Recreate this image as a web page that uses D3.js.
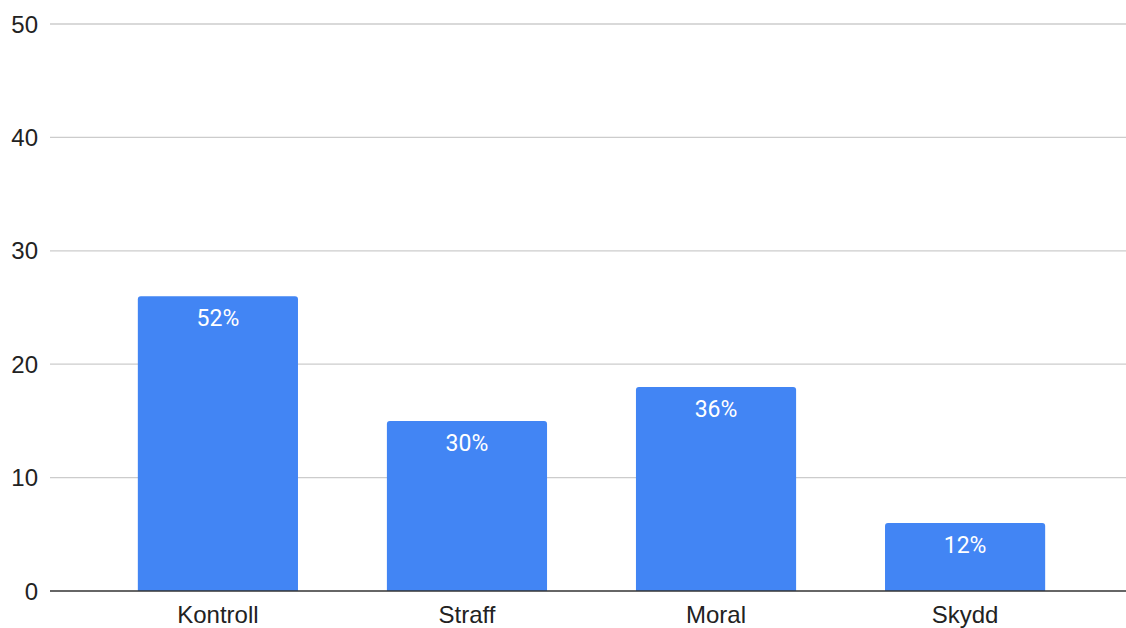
<!DOCTYPE html>
<html>
<head>
<meta charset="utf-8">
<script src="https://cdn.jsdelivr.net/npm/d3@7"></script>
<style>
  body { margin: 0; background: #fff; }
</style>
</head>
<body>
<svg id="chart"></svg>
<script>
const categories = ["Kontroll", "Straff", "Moral", "Skydd"];
const values = [26, 15, 18, 6];
const percentLabels = ["52%", "30%", "36%", "12%"];
const yTicks = [0, 10, 20, 30, 40, 50];

const WIDTH = 1126;
const HEIGHT = 628;
const AXIS_FONT = "'Liberation Sans', Arial, sans-serif";
const LABEL_FONT = "Roboto, 'Liberation Sans', sans-serif";

const svg = d3.select("#chart").attr("width", WIDTH).attr("height", HEIGHT);

// scales
const x = d3.scaleBand()
  .domain(categories)
  .range([93.5, 1089.5])
  .paddingInner(0.357)
  .paddingOuter(0.178);

const y = d3.scaleLinear().domain([0, 50]).range([591, 24]);

// gridlines
svg.append("g")
  .selectAll("line")
  .data(yTicks.filter(d => d > 0))
  .enter()
  .append("line")
  .attr("x1", 50)
  .attr("x2", WIDTH)
  .attr("y1", d => y(d))
  .attr("y2", d => y(d))
  .attr("stroke", "#cccccc")
  .attr("stroke-width", 1.3);

// y tick labels
svg.append("g")
  .selectAll("text")
  .data(yTicks)
  .enter()
  .append("text")
  .attr("x", 38)
  .attr("y", d => y(d))
  .attr("dy", "0.36em")
  .attr("text-anchor", "end")
  .attr("font-family", AXIS_FONT)
  .attr("font-size", 24)
  .attr("fill", "#222")
  .text(d => d);

// bars, small rounded top corners
function barPath(x0, y0, w, h, r) {
  return "M" + x0 + "," + (y0 + h) +
    "V" + (y0 + r) +
    "Q" + x0 + "," + y0 + " " + (x0 + r) + "," + y0 +
    "H" + (x0 + w - r) +
    "Q" + (x0 + w) + "," + y0 + " " + (x0 + w) + "," + (y0 + r) +
    "V" + (y0 + h) + "Z";
}

const data = categories.map((c, i) => ({ cat: c, val: values[i], label: percentLabels[i] }));

svg.append("g")
  .selectAll("path")
  .data(data)
  .enter()
  .append("path")
  .attr("d", d => barPath(x(d.cat), y(d.val), x.bandwidth(), y(0) - y(d.val), 3))
  .attr("fill", "#4285f4");

// value labels inside bars
svg.append("g")
  .selectAll("text")
  .data(data)
  .enter()
  .append("text")
  .attr("x", d => x(d.cat) + x.bandwidth() / 2)
  .attr("y", d => y(d.val) + 22)
  .attr("dy", "0.36em")
  .attr("text-anchor", "middle")
  .attr("font-family", LABEL_FONT)
  .attr("font-size", 23)
  .attr("fill", "#ffffff")
  .text(d => d.label);

// baseline
svg.append("line")
  .attr("x1", 50)
  .attr("x2", WIDTH)
  .attr("y1", y(0))
  .attr("y2", y(0))
  .attr("stroke", "#333")
  .attr("stroke-width", 1.5);

// category labels
svg.append("g")
  .selectAll("text")
  .data(categories)
  .enter()
  .append("text")
  .attr("x", d => x(d) + x.bandwidth() / 2)
  .attr("y", 623)
  .attr("text-anchor", "middle")
  .attr("font-family", AXIS_FONT)
  .attr("font-size", 24)
  .attr("fill", "#222")
  .text(d => d);
</script>
</body>
</html>
